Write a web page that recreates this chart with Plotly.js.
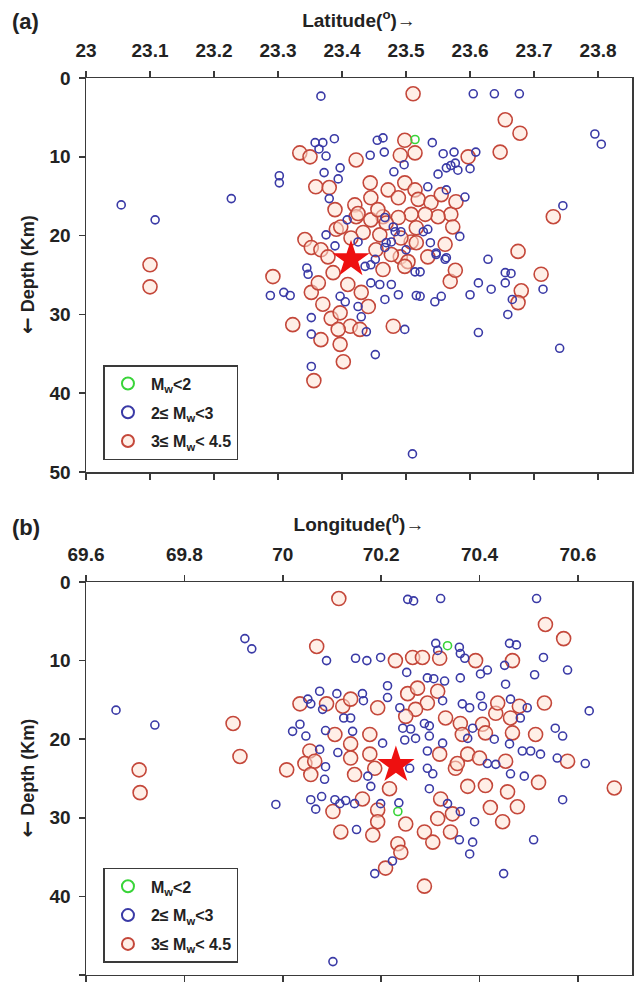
<!DOCTYPE html>
<html>
<head>
<meta charset="utf-8">
<script src="https://cdn.plot.ly/plotly-3.0.1.min.js"></script>
<style>html,body{margin:0;padding:0;background:#fff;}#chart{width:638px;height:984px;}</style>
</head>
<body>
<div id="chart"></div>
<script>
// ---------- Panel (a): Latitude vs Depth ----------
const latA_blue = [23.367,23.605,23.638,23.677,23.795,23.805,23.358,23.370,23.388,23.364,23.375,23.455,23.464,23.444,23.466,23.541,23.558,23.575,23.609,23.563,23.570,23.581,23.600,23.550,23.481,23.497,23.397,23.394,23.302,23.302,23.372,23.380,23.408,23.375,23.389,23.345,23.347,23.055,23.108,23.227,23.288,23.309,23.319,23.397,23.405,23.425,23.352,23.352,23.352,23.452,23.467,23.483,23.477,23.492,23.467,23.452,23.459,23.477,23.488,23.522,23.522,23.545,23.534,23.547,23.563,23.445,23.425,23.436,23.445,23.467,23.430,23.438,23.577,23.745,23.628,23.655,23.664,23.584,23.592,23.563,23.534,23.480,23.527,23.538,23.469,23.500,23.514,23.547,23.561,23.666,23.659,23.655,23.633,23.600,23.613,23.714,23.516,23.555,23.613,23.740,23.498,23.510];
const depA_blue = [2.3,2.0,2.0,2.0,7.1,8.4,8.2,8.2,7.7,9.0,9.9,7.9,7.6,9.8,9.4,8.2,9.6,9.4,9.4,11.4,11.1,11.7,11.5,12.2,11.9,11.0,11.4,12.8,12.4,13.3,12.0,15.3,18.0,19.9,21.3,24.1,24.9,16.1,18.0,15.3,27.6,27.2,27.6,27.7,28.4,29.0,30.4,32.5,36.6,35.1,17.7,19.5,20.8,19.5,21.5,23.0,26.2,26.2,27.5,24.6,27.7,28.4,19.2,22.2,22.8,23.7,20.8,23.9,26.0,28.1,30.3,32.2,10.8,16.2,23.0,24.7,24.8,20.1,15.1,14.2,13.8,18.9,19.5,20.9,20.9,21.8,24.6,22.4,23.0,28.1,30.0,26.0,26.8,27.5,26.0,26.8,27.6,27.7,32.3,34.3,31.9,47.7];
const latA_red = [23.511,23.655,23.678,23.647,23.597,23.498,23.491,23.514,23.422,23.334,23.350,23.359,23.380,23.389,23.420,23.391,23.422,23.342,23.352,23.367,23.378,23.386,23.100,23.100,23.292,23.352,23.363,23.409,23.430,23.441,23.370,23.383,23.397,23.413,23.428,23.323,23.367,23.397,23.402,23.356,23.425,23.444,23.445,23.472,23.488,23.498,23.514,23.519,23.539,23.555,23.570,23.550,23.530,23.508,23.488,23.464,23.445,23.459,23.433,23.414,23.464,23.491,23.508,23.516,23.534,23.561,23.569,23.394,23.480,23.578,23.456,23.469,23.398,23.573,23.492,23.516,23.453,23.477,23.503,23.498,23.577,23.675,23.730,23.711,23.680,23.675];
const depA_red = [2.0,5.3,7.0,9.4,10.0,7.9,9.8,9.5,10.4,9.5,10.0,13.8,13.9,16.7,16.1,19.2,17.6,20.5,21.5,21.8,22.7,24.7,23.7,26.5,25.2,27.2,26.0,26.2,27.2,29.0,28.7,30.5,29.8,31.5,31.9,31.3,33.2,33.8,36.0,38.4,17.2,13.3,15.2,14.2,15.2,13.3,14.2,15.4,15.8,14.8,17.3,17.6,17.3,17.3,17.7,17.6,18.0,19.9,19.6,20.3,24.3,22.7,20.8,19.0,22.7,21.1,25.8,31.9,31.5,15.7,16.7,18.4,18.9,18.9,20.3,20.9,21.8,22.4,23.3,23.9,24.4,22.0,17.6,24.9,27.0,28.5];
const latA_green = [23.514];
const depA_green = [7.8];
const latA_star = [23.414];
const depA_star = [23.0];

// ---------- Panel (b): Longitude vs Depth ----------
const lonB_blue = [70.089,70.148,69.923,69.937,69.661,69.740,70.075,70.110,70.051,70.057,70.081,70.124,70.138,70.035,70.020,70.047,70.087,70.142,70.075,70.112,70.087,70.085,69.986,70.057,70.067,70.079,70.106,70.116,70.128,70.146,70.173,70.179,70.199,70.236,70.294,70.305,70.298,70.335,70.361,70.390,70.359,70.386,70.380,70.150,70.187,70.223,70.102,70.254,70.266,70.321,70.516,70.311,70.359,70.361,70.370,70.461,70.475,70.530,70.579,70.512,70.451,70.416,70.402,70.361,70.315,70.171,70.199,70.252,70.213,70.294,70.307,70.329,70.162,70.164,70.213,70.238,70.325,70.402,70.453,70.463,70.365,70.380,70.406,70.497,70.483,70.623,70.554,70.569,70.203,70.248,70.270,70.288,70.298,70.244,70.260,70.298,70.325,70.376,70.386,70.430,70.487,70.504,70.524,70.558,70.615,70.461,70.294,70.416,70.433,70.463,70.491,70.258,70.510,70.449,70.569];
const depB_blue = [10.0,9.7,7.2,8.5,16.3,18.2,13.9,14.2,14.9,15.5,16.2,17.3,17.3,18.1,19.0,19.6,18.9,19.0,21.3,21.7,23.5,25.1,28.3,27.7,28.9,27.3,27.7,28.2,27.8,28.2,24.7,26.0,28.2,28.1,23.7,24.4,26.3,28.2,29.2,30.5,32.8,33.1,34.6,31.5,37.1,35.5,48.3,2.2,2.4,2.1,2.1,7.8,8.3,9.1,9.7,7.8,8.0,9.6,11.2,11.8,10.6,11.2,11.7,12.2,8.7,10.0,9.6,11.5,13.2,12.2,12.3,12.6,14.2,15.1,14.7,16.0,15.1,14.5,13.0,14.9,15.5,16.0,15.8,16.0,17.3,16.4,18.6,19.6,20.5,20.1,19.9,18.0,18.3,18.6,18.7,19.6,20.5,19.9,18.6,20.0,21.5,21.5,21.9,22.4,23.1,20.6,21.5,23.1,23.2,24.4,24.7,23.7,32.8,37.1,27.7];
const lonB_red = [70.114,70.069,69.899,69.913,69.708,69.710,70.035,70.089,70.122,70.138,70.106,70.138,70.055,70.045,70.065,70.008,70.057,70.138,70.146,70.102,70.162,70.193,70.193,70.183,70.118,70.250,70.217,70.234,70.240,70.209,70.288,70.305,70.315,70.345,70.341,70.351,70.376,70.321,70.288,70.534,70.571,70.229,70.264,70.284,70.319,70.392,70.467,70.254,70.274,70.315,70.294,70.270,70.250,70.193,70.331,70.361,70.406,70.433,70.437,70.463,70.481,70.532,70.514,70.467,70.412,70.365,70.177,70.177,70.187,70.319,70.355,70.376,70.400,70.453,70.579,70.520,70.674,70.422,70.412,70.457,70.477,70.447];
const depB_red = [2.1,8.2,18.0,22.2,23.9,26.8,15.5,15.5,15.8,14.9,19.4,20.6,21.5,23.1,22.8,23.9,24.5,22.4,24.5,29.2,27.6,29.0,30.5,32.2,31.8,30.8,26.3,33.3,34.4,36.4,31.8,33.1,30.1,29.5,31.8,23.7,26.0,27.6,38.7,5.4,7.2,10.0,9.6,9.6,9.7,10.0,10.0,14.2,13.5,13.9,15.4,16.2,17.1,16.0,17.3,18.0,18.1,16.7,15.4,17.3,15.8,15.4,19.4,19.2,19.2,19.4,19.4,21.9,23.7,21.9,23.1,21.9,22.4,22.8,22.8,25.5,26.2,28.7,25.9,26.7,28.6,30.5];
const lonB_green = [70.335,70.234];
const depB_green = [8.1,29.2];
const lonB_star = [70.23];
const depB_star = [23.3];

// ---------- Labels ----------
const latTicks = [23,23.1,23.2,23.3,23.4,23.5,23.6,23.7,23.8];
const lonTicks = [69.6,69.8,70,70.2,70.4,70.6];
const depthTicks = [0,10,20,30,40,50];
const nameGreen = 'M<sub>w</sub><2';
const nameBlue = '2≤ M<sub>w</sub><3';
const nameRed = '3≤ M<sub>w</sub>< 4.5';
const depthTitle = '<span style="font-family:DejaVu Sans;font-size:20px">←</span> Depth (Km)';

const FONT = 'Liberation Sans, Arial, Helvetica, sans-serif';
const INK = '#222';
const AX = '#3a3a3a';
const RED_LINE = '#c4473a', RED_FILL = 'rgba(255,226,212,0.55)';
const BLUE_LINE = '#3a3aa6';
const GREEN_LINE = '#39d439';

function panelTraces(xs, suffix, legendId){
  const xa = 'x' + suffix, ya = 'y' + suffix;
  return [
    {type:'scatter', mode:'markers', x:xs.rx, y:xs.ry, xaxis:xa, yaxis:ya, name:nameRed, legend:legendId, legendgroup:'r'+suffix, legendrank:3,
     marker:{symbol:'circle', size:14, color:RED_FILL, line:{color:RED_LINE, width:1.6}}},
    {type:'scatter', mode:'markers', x:xs.bx, y:xs.by, xaxis:xa, yaxis:ya, name:nameBlue, legend:legendId, legendgroup:'b'+suffix, legendrank:2,
     marker:{symbol:'circle-open', size:8, color:BLUE_LINE, line:{color:BLUE_LINE, width:1.6}}},
    {type:'scatter', mode:'markers', x:xs.gx, y:xs.gy, xaxis:xa, yaxis:ya, name:nameGreen, legend:legendId, legendgroup:'g'+suffix, legendrank:1,
     marker:{symbol:'circle-open', size:8, color:GREEN_LINE, line:{color:GREEN_LINE, width:1.6}}},
    {type:'scatter', mode:'markers', x:xs.sx, y:xs.sy, xaxis:xa, yaxis:ya, showlegend:false,
     marker:{symbol:'star', size:28, color:'#ee1010', line:{width:0}}}
  ];
}

const data = [].concat(
  panelTraces({rx:latA_red, ry:depA_red, bx:latA_blue, by:depA_blue, gx:latA_green, gy:depA_green, sx:latA_star, sy:depA_star}, '', 'legend'),
  panelTraces({rx:lonB_red, ry:depB_red, bx:lonB_blue, by:depB_blue, gx:lonB_green, gy:depB_green, sx:lonB_star, sy:depB_star}, '2', 'legend2')
);

const tickFont = {family:FONT, size:19, weight:'bold', color:INK};
function xAxis(range, ticks, title, anchor){
  return {range:range, side:'top', anchor:anchor, tickvals:ticks, ticktext:ticks.map(String),
    ticks:'outside', ticklen:6, tickwidth:1.5, tickcolor:AX, showline:true, linecolor:AX, linewidth:1.5,
    mirror:'ticks', showgrid:false, zeroline:false, tickfont:tickFont, ticklabelstandoff:6,
    title:{text:title, font:{family:FONT, size:19, weight:'bold', color:INK}, standoff:7}};
}
function yAxis(domain, anchor){
  return {domain:domain, anchor:anchor, range:[50,0], tickvals:depthTicks, ticks:'outside', ticklen:6, tickwidth:1.5,
    tickcolor:AX, showline:true, linecolor:AX, linewidth:1.5, mirror:true, showgrid:false, zeroline:false,
    tickfont:tickFont, ticklabelstandoff:4};
}
function legendAt(y){
  return {x:0.032, y:y, xanchor:'left', yanchor:'top', bgcolor:'#fff', bordercolor:AX, borderwidth:1.5,
    font:{family:FONT, size:16, weight:'bold', color:INK}, itemsizing:'constant', itemwidth:36,
    entrywidth:132, entrywidthmode:'pixels',
    traceorder:'grouped', tracegroupgap:5};
}

const layout = {
  width:638, height:984, paper_bgcolor:'#fff', plot_bgcolor:'#fff',
  margin:{l:86, r:6, t:0, b:0}, showlegend:true,
  xaxis: xAxis([23.0, 23.853], latTicks, 'Latitude(<sup>o</sup>)→', 'y'),
  yaxis: yAxis([0.5203, 0.9207], 'x'),
  xaxis2: xAxis([69.6, 70.71], lonTicks, 'Longitude(<sup>0</sup>)→', 'y2'),
  yaxis2: yAxis([0.0092, 0.4085], 'x2'),
  legend: legendAt(0.629),
  legend2: legendAt(0.118),
  annotations:[
    {text:'(a)', xref:'paper', yref:'paper', x:-0.11, y:0.978, xanchor:'center', yanchor:'middle', showarrow:false, font:{family:FONT, size:22, weight:'bold', color:INK}},
    {text:'(b)', xref:'paper', yref:'paper', x:-0.11, y:0.4644, xanchor:'center', yanchor:'middle', showarrow:false, font:{family:FONT, size:22, weight:'bold', color:INK}},
    {text:depthTitle, xref:'paper', yref:'paper', x:-0.108, y:0.7205, xanchor:'center', yanchor:'middle', textangle:-90, showarrow:false, font:{family:FONT, size:18, weight:'bold', color:INK}},
    {text:depthTitle, xref:'paper', yref:'paper', x:-0.108, y:0.2089, xanchor:'center', yanchor:'middle', textangle:-90, showarrow:false, font:{family:FONT, size:18, weight:'bold', color:INK}}
  ]
};

Plotly.newPlot('chart', data, layout, {displayModeBar:false, staticPlot:true});
</script>
</body>
</html>
